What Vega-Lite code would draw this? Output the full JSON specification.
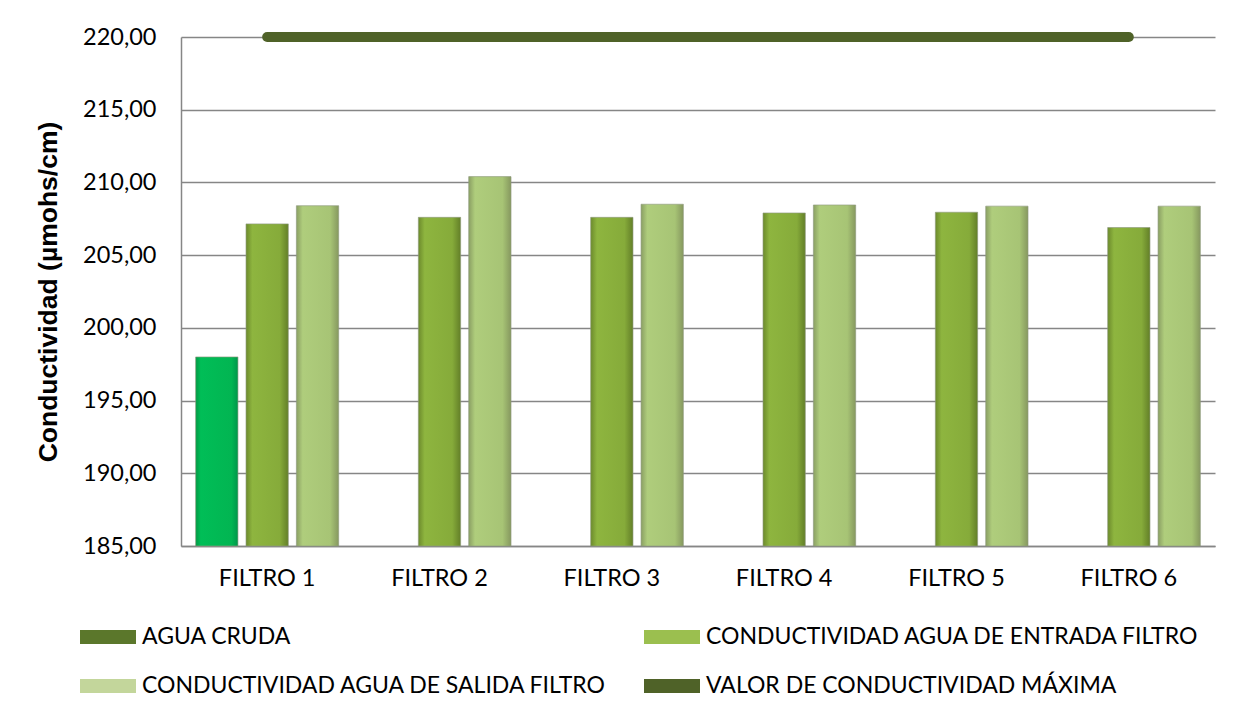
{
  "$schema": "https://vega.github.io/schema/vega-lite/v6.json",
  "autosize": "none",
  "width": 1034,
  "height": 509,
  "padding": {"left": 181, "top": 37, "right": 28, "bottom": 171},
  "background": "white",
  "config": {
    "view": {"stroke": null},
    "font": "Lato",
    "axis": {"labelFont": "Lato", "labelColor": "#000000", "domainColor": "#868686", "domainWidth": 1.5, "gridColor": "#868686", "gridWidth": 1.5, "ticks": false}
  },
  "datasets": {
    "barras": [
      {"filtro": "FILTRO 1", "serie": "AGUA CRUDA", "valor": 198.0},
      {"filtro": "FILTRO 1", "serie": "CONDUCTIVIDAD AGUA DE ENTRADA FILTRO", "valor": 207.15},
      {"filtro": "FILTRO 1", "serie": "CONDUCTIVIDAD AGUA DE SALIDA FILTRO", "valor": 208.4},
      {"filtro": "FILTRO 2", "serie": "CONDUCTIVIDAD AGUA DE ENTRADA FILTRO", "valor": 207.6},
      {"filtro": "FILTRO 2", "serie": "CONDUCTIVIDAD AGUA DE SALIDA FILTRO", "valor": 210.4},
      {"filtro": "FILTRO 3", "serie": "CONDUCTIVIDAD AGUA DE ENTRADA FILTRO", "valor": 207.6},
      {"filtro": "FILTRO 3", "serie": "CONDUCTIVIDAD AGUA DE SALIDA FILTRO", "valor": 208.5},
      {"filtro": "FILTRO 4", "serie": "CONDUCTIVIDAD AGUA DE ENTRADA FILTRO", "valor": 207.9},
      {"filtro": "FILTRO 4", "serie": "CONDUCTIVIDAD AGUA DE SALIDA FILTRO", "valor": 208.45},
      {"filtro": "FILTRO 5", "serie": "CONDUCTIVIDAD AGUA DE ENTRADA FILTRO", "valor": 207.95},
      {"filtro": "FILTRO 5", "serie": "CONDUCTIVIDAD AGUA DE SALIDA FILTRO", "valor": 208.37},
      {"filtro": "FILTRO 6", "serie": "CONDUCTIVIDAD AGUA DE ENTRADA FILTRO", "valor": 206.9},
      {"filtro": "FILTRO 6", "serie": "CONDUCTIVIDAD AGUA DE SALIDA FILTRO", "valor": 208.37}
    ],
    "maximo": [
      {"filtro": "FILTRO 1", "serie": "VALOR DE CONDUCTIVIDAD MÁXIMA", "valor": 220},
      {"filtro": "FILTRO 2", "serie": "VALOR DE CONDUCTIVIDAD MÁXIMA", "valor": 220},
      {"filtro": "FILTRO 3", "serie": "VALOR DE CONDUCTIVIDAD MÁXIMA", "valor": 220},
      {"filtro": "FILTRO 4", "serie": "VALOR DE CONDUCTIVIDAD MÁXIMA", "valor": 220},
      {"filtro": "FILTRO 5", "serie": "VALOR DE CONDUCTIVIDAD MÁXIMA", "valor": 220},
      {"filtro": "FILTRO 6", "serie": "VALOR DE CONDUCTIVIDAD MÁXIMA", "valor": 220}
    ]
  },
  "encoding": {
    "x": {
      "field": "filtro", "type": "nominal",
      "scale": {"paddingInner": 0.17, "paddingOuter": 0.085},
      "axis": {"title": null, "labelAngle": 0, "labelFontSize": 23.5, "labelPadding": 20}
    },
    "y": {
      "field": "valor", "type": "quantitative",
      "scale": {"domain": [185, 220], "nice": false, "zero": false},
      "axis": {
        "values": [185, 190, 195, 200, 205, 210, 215, 220],
        "labelExpr": "replace(format(datum.value, '.2f'), '.', ',')",
        "labelFontSize": 23.5, "labelPadding": 25,
        "title": "Conductividad (µmohs/cm)",
        "titleFont": "Liberation Sans", "titleFontSize": 26.5, "titleFontWeight": "bold", "titleColor": "#000000",
        "titlePadding": 20, "grid": true
      }
    }
  },
  "layer": [
    {
      "data": {"name": "barras"},
      "mark": {"type": "bar", "stroke": "#8f9a80", "strokeWidth": 0.8, "strokeOpacity": 0.8},
      "encoding": {
        "y2": {"datum": 185},
        "xOffset": {
          "field": "serie", "type": "nominal",
          "scale": {"domain": ["AGUA CRUDA", "CONDUCTIVIDAD AGUA DE ENTRADA FILTRO", "CONDUCTIVIDAD AGUA DE SALIDA FILTRO"], "paddingInner": 0.16, "paddingOuter": 0}
        },
        "color": {
          "condition": [
            {"test": "datum.serie === 'AGUA CRUDA'", "value": {"gradient": "linear", "x1": 0, "y1": 0, "x2": 1, "y2": 0, "stops": [{"offset": 0, "color": "#009A45"}, {"offset": 0.12, "color": "#00BE57"}, {"offset": 0.85, "color": "#02B552"}, {"offset": 1, "color": "#00964A"}]}},
            {"test": "datum.serie === 'CONDUCTIVIDAD AGUA DE ENTRADA FILTRO'", "value": {"gradient": "linear", "x1": 0, "y1": 0, "x2": 1, "y2": 0, "stops": [{"offset": 0, "color": "#6C8A2C"}, {"offset": 0.15, "color": "#8EB53F"}, {"offset": 0.8, "color": "#86AB3A"}, {"offset": 1, "color": "#637F28"}]}},
            {"test": "datum.serie === 'CONDUCTIVIDAD AGUA DE SALIDA FILTRO'", "value": {"gradient": "linear", "x1": 0, "y1": 0, "x2": 1, "y2": 0, "stops": [{"offset": 0, "color": "#8A9F63"}, {"offset": 0.15, "color": "#AFCD7C"}, {"offset": 0.8, "color": "#A7C475"}, {"offset": 1, "color": "#86985F"}]}}
          ],
          "field": "serie", "type": "nominal",
          "scale": {
            "domain": ["AGUA CRUDA", "CONDUCTIVIDAD AGUA DE ENTRADA FILTRO", "CONDUCTIVIDAD AGUA DE SALIDA FILTRO", "VALOR DE CONDUCTIVIDAD MÁXIMA"],
            "range": ["#5B772B", "#9BBF4F", "#C3D69B", "#4F6228"]
          },
          "legend": {
            "title": null, "orient": "none", "legendX": -101, "legendY": 572, "direction": "horizontal",
            "columns": 2, "columnPadding": 36, "rowPadding": 9,
            "symbolType": "M-1,-0.25H1V0.25H-1Z", "symbolSize": 3136, "symbolStrokeWidth": 0,
            "labelFont": "Lato", "labelFontSize": 23, "labelColor": "#000000", "labelOffset": 6, "labelLimit": 600
          }
        }
      }
    },
    {
      "data": {"name": "maximo"},
      "mark": {"type": "line", "strokeWidth": 10, "strokeCap": "round"},
      "encoding": {
        "color": {"field": "serie", "type": "nominal", "legend": null}
      }
    }
  ]
}
